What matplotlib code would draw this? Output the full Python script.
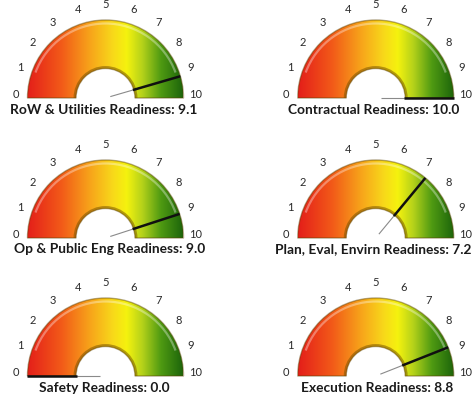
import numpy as np
import matplotlib
matplotlib.use("Agg")
import matplotlib.pyplot as plt
from matplotlib.patches import Wedge, Arc
from matplotlib.colors import LinearSegmentedColormap

# Gauge data
titles = [
    "RoW & Utilities Readiness",
    "Contractual Readiness",
    "Op & Public Eng Readiness",
    "Plan, Eval, Envirn Readiness",
    "Safety Readiness",
    "Execution Readiness",
]
values = [9.1, 10.0, 9.0, 7.2, 0.0, 8.8]
tick_labels = [str(i) for i in range(11)]
scale_max = 10.0

# Layout (pixel space of a 474x400 canvas)
col_x = [105.5, 375.7]
row_y = [98, 238, 376]
title_y = [110, 249, 388]
title_x = [[104, 373.5], [110, 373], [104, 377]]
r_out, r_in = 78, 29.5
label_r = 90

grad = LinearSegmentedColormap.from_list(
    "gauge",
    [(0.00, "#e41e1a"), (0.22, "#f25a18"), (0.40, "#f7a21a"),
     (0.55, "#f8d81a"), (0.64, "#f5f20e"), (0.74, "#b5d21a"),
     (0.86, "#4f9a12"), (1.00, "#1d650b")],
)

fig = plt.figure(figsize=(4.74, 4.0), dpi=100)
ax = fig.add_axes([0, 0, 1, 1])
ax.set_xlim(0, 474)
ax.set_ylim(400, 0)
ax.set_aspect("equal")
ax.axis("off")

gradient = np.linspace(0, 1, 256).reshape(1, -1)

for i, (title, val) in enumerate(zip(titles, values)):
    cx = col_x[i % 2]
    cy = row_y[i // 2]
    ty = title_y[i // 2]
    tx = title_x[i // 2][i % 2]

    # coloured band, clipped to the half annulus
    band = Wedge((cx, cy), r_out, 180, 360, width=r_out - r_in,
                 facecolor="none", edgecolor="none")
    ax.add_patch(band)
    im = ax.imshow(gradient, cmap=grad, aspect="auto",
                   extent=[cx - r_out, cx + r_out, cy, cy - r_out],
                   interpolation="bilinear", zorder=1)
    im.set_clip_path(band)

    # soft edges and highlight
    ax.add_patch(Wedge((cx, cy), r_out, 180, 360, width=r_out - r_in,
                       facecolor="none", edgecolor=(0.35, 0.25, 0.0, 0.45),
                       linewidth=1.0, zorder=2))
    ax.add_patch(Arc((cx, cy), 2 * (r_out - 3.5), 2 * (r_out - 3.5),
                     theta1=200, theta2=340, color="white", alpha=0.35,
                     linewidth=1.6, zorder=2))
    ax.add_patch(Arc((cx, cy), 2 * (r_in + 1.2), 2 * (r_in + 1.2),
                     theta1=180, theta2=360, color=(0.45, 0.3, 0.0),
                     alpha=0.5, linewidth=1.8, zorder=2))

    # scale numbers
    for k, lab in enumerate(tick_labels):
        th = np.pi - k / scale_max * np.pi
        ax.text(cx + label_r * np.cos(th), cy - 3 - label_r * np.sin(th), lab,
                ha="center", va="center", fontsize=8, color="#2a2a2a",
                family="Lato")

    # needle
    th = np.pi - val / scale_max * np.pi
    c, s = np.cos(th), np.sin(th)
    ax.plot([cx + 5 * c, cx + r_in * c], [cy - 5 * s, cy - r_in * s],
            color="#8a8a8a", linewidth=0.8, solid_capstyle="butt", zorder=3)
    ax.plot([cx + (r_in - 1) * c, cx + r_out * c],
            [cy - (r_in - 1) * s, cy - r_out * s],
            color="#101010", linewidth=1.8, solid_capstyle="butt", zorder=3)

    ax.text(tx, ty, f"{title}: {val:.1f}", ha="center", va="center",
            fontsize=9.9, fontweight="bold", color="#1a1a1a", family="Lato")

fig.savefig("out.png", dpi=100)
